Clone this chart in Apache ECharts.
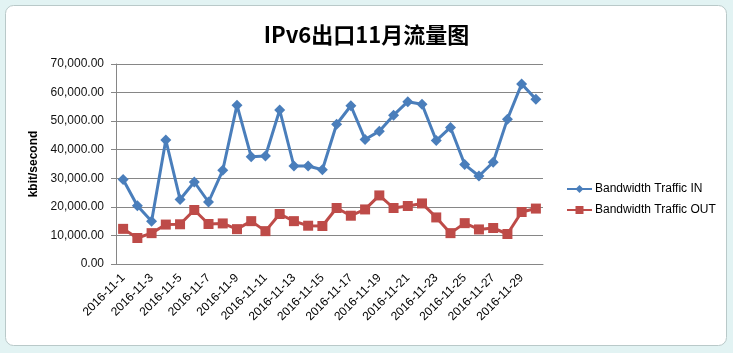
<!DOCTYPE html>
<html><head><meta charset="utf-8">
<script src="https://cdn.jsdelivr.net/npm/echarts@6/dist/echarts.min.js"></script>
<style>html,body{margin:0;padding:0;background:#fff}#c{width:733px;height:353px}</style>
</head><body><div id="c"></div>
<script>
const categories = ["2016-11-1","2016-11-2","2016-11-3","2016-11-4","2016-11-5","2016-11-6","2016-11-7","2016-11-8","2016-11-9","2016-11-10","2016-11-11","2016-11-12","2016-11-13","2016-11-14","2016-11-15","2016-11-16","2016-11-17","2016-11-18","2016-11-19","2016-11-20","2016-11-21","2016-11-22","2016-11-23","2016-11-24","2016-11-25","2016-11-26","2016-11-27","2016-11-28","2016-11-29","2016-11-30"];
const trafficIn = [29600,20400,15000,43400,22600,28700,21700,32800,55600,37500,37800,53900,34300,34300,33000,48900,55400,43600,46500,52100,56800,55900,43200,47800,34800,30800,35600,50700,63000,57700];
const trafficOut = [12300,9100,10800,13800,13900,18900,14000,14200,12200,15000,11500,17500,15000,13400,13300,19600,16900,19100,24000,19600,20300,21200,16300,10800,14300,12100,12600,10500,18200,19400];
const seriesNames = ["Bandwidth Traffic IN","Bandwidth Traffic OUT"];
const titleText = "IPv6出口11月流量图";
const yName = "kbit/second";

const chart = echarts.init(document.getElementById('c'));
const fmt = v => v.toLocaleString('en-US',{minimumFractionDigits:2,maximumFractionDigits:2});
chart.setOption({
  animation:false,
  backgroundColor:'#e2f3f3',
  graphic:[{type:'rect',z:-10,shape:{x:5.5,y:5.5,width:721,height:340,r:8},style:{fill:'#fff',stroke:'#b9c9c9',lineWidth:1}}],
  title:{text:titleText,left:'center',top:19,textStyle:{fontFamily:'Noto Sans CJK SC',fontWeight:'bold',fontSize:22,color:'#000'}},
  legend:{orient:'vertical',left:561,top:178,itemGap:9,itemWidth:25,itemHeight:10,
    textStyle:{fontFamily:'Liberation Sans',fontSize:12,color:'#000',padding:[0,0,0,-2]},data:seriesNames},
  grid:{left:116,right:190,top:64,bottom:89},
  xAxis:{type:'category',data:categories,boundaryGap:true,
    axisLine:{lineStyle:{color:'#868686'}},axisTick:{show:false},
    axisLabel:{interval:1,rotate:45,fontFamily:'Liberation Sans',fontSize:12,color:'#000',margin:12}},
  yAxis:{type:'value',min:0,max:70000,interval:10000,name:yName,nameLocation:'middle',nameGap:76,
    nameTextStyle:{fontFamily:'Liberation Sans',fontWeight:'bold',fontSize:12,color:'#000'},
    axisLine:{show:true,lineStyle:{color:'#868686'}},axisTick:{show:true,length:5,inside:false,lineStyle:{color:'#868686'}},
    splitLine:{lineStyle:{color:'#868686'}},
    axisLabel:{formatter:fmt,fontFamily:'Liberation Sans',fontSize:12,color:'#111',margin:12}},
  series:[
    {name:seriesNames[0],type:'line',data:trafficIn,symbol:'diamond',symbolSize:11,showAllSymbol:true,
      lineStyle:{color:'#4a7ebb',width:3},itemStyle:{color:'#4a7ebb'}},
    {name:seriesNames[1],type:'line',data:trafficOut,symbol:'rect',symbolSize:10,showAllSymbol:true,
      lineStyle:{color:'#be4b48',width:3},itemStyle:{color:'#be4b48'}}
  ]
});
</script></body></html>
